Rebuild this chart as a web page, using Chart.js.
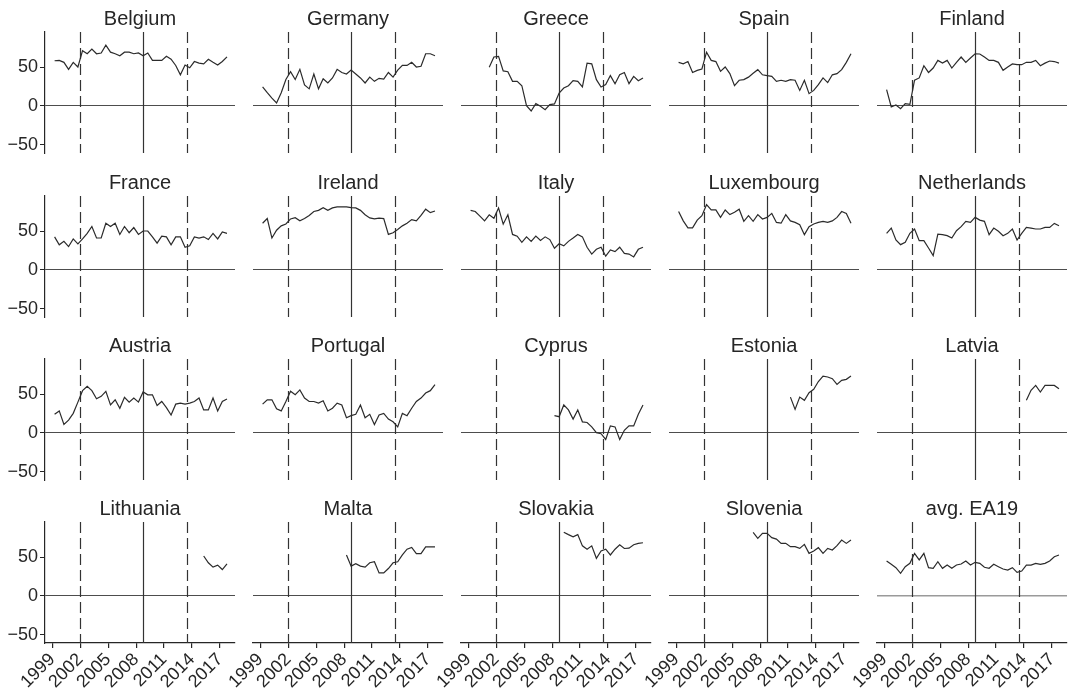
<!DOCTYPE html>
<html>
<head>
<meta charset="utf-8">
<script src="https://cdn.jsdelivr.net/npm/chart.js@4"></script>
<style>
body{margin:0;background:#fff}
#wrap{position:relative;width:1068px;height:688px;overflow:hidden;background:#fff}
.panel{position:absolute}
</style>
</head>
<body>
<div id="wrap"></div>
<script>

// ===== DATA =====
// half-year observations, plotted at mid-half positions
const periods = [1999.25,1999.75,2000.25,2000.75,2001.25,2001.75,2002.25,2002.75,2003.25,2003.75,
2004.25,2004.75,2005.25,2005.75,2006.25,2006.75,2007.25,2007.75,2008.25,2008.75,
2009.25,2009.75,2010.25,2010.75,2011.25,2011.75,2012.25,2012.75,2013.25,2013.75,
2014.25,2014.75,2015.25,2015.75,2016.25,2016.75,2017.25,2017.75]

const xTickYears = [1999,2002,2005,2008,2011,2014,2017]
const yTickValues = [50,0,-50]
const eventYears = [2002.0, 2008.72, 2013.47]
const eventDashed = [true, false, true]

function gap(n){ return new Array(n).fill(null) }

const belgium = [58,58.5,56,47,56,50,71,67,73,67,68,78,69,67,64.5,69,69,67,68,64.5,68,58.5,58.5,58.5,63.7,60,52,40,52.5,49,57,55,54,60,56,52.5,57,63]
const germany = [24.4,17,10,3.8,17,34,44,34,47,27,22,41,22,35,29.5,36,47,43,41,46,41,36,29.5,37,31.6,35.5,34.6,43,37,46,52,52,56,50,51,67,67,64.5]
const greece = gap(4).concat([49.6,62.8,63.7,45,44,31.6,31.6,26,0.4,-6.4,3,-0.4,-4.7,1.7,2.6,16.7,23,26,32.5,31.6,24.4,55,54,33.8,24.4,27.4,39,28.6,40,43,28.6,38,32.5,36])
const spain = [56,54,57,43,45.7,47.4,69,58.5,57,44.4,50,41.5,26,33,33.8,37,42,46.6,40,39,38,31.6,33,31.6,33.8,33,20,33,15.8,20,27.4,36,30,40,41.5,46.6,56,67]
const finland = [21,-1.3,1.3,-3.4,3,2,33,36,51.7,43,48.7,58.5,55,58.5,48.7,56,62.8,56,61.5,67,66.7,62.8,58.5,58.5,56,45.7,50,54,53,53,56,56,58.5,51.7,55,57.7,57,55]

const france = [42.5,32.3,36.7,30,39.8,33.6,39.8,47,55.8,41,41,60,55.8,60,45.6,55.8,47.8,54.4,45.6,50,50,42.5,34.5,43.4,42.5,32.3,42.5,42.5,29.2,31,42.5,41,42.5,39,47,39.8,48.7,47]
const ireland = [60,66,41,51,56.6,59,65.5,67,63,66,70,75,76.5,80,76.5,79.6,81,81,81,80,79.6,76.5,70.8,66.8,65.5,66.4,66,45.6,47.8,52,56.6,60,64.6,63,70,78,73.5,75.7]
const italy = [76.5,75,69,63,70.8,66.4,79.6,58.8,70.8,45.6,43.4,35.4,42.5,36.7,43.4,38,42.5,39,27.9,33.6,31,36.7,41,45.6,42.5,29.2,20.4,26.5,29.2,17.7,25.7,23.5,29.2,21.2,20.4,16.8,26.5,29.2]
const luxembourg = [75,63,54,54,64,69.7,83.8,77,77,67.5,77,71,74,78,62.4,69.7,62.4,71,65.4,67.5,72.6,61,60,71,63,61,58,45.3,55.6,59,61,62.4,61,63,67.5,75,72.6,59.8]
const netherlands = [47,53.8,38.5,32.5,35.5,47,52.6,37.6,37.6,28.2,18.4,46,45.3,44,41,50.4,55.6,62.4,61,67.5,64,62.4,45.3,53.8,49.6,44,47,52.6,38.5,47,54.7,53.8,52.6,52.6,54.7,54.7,59.8,56.8]

const austria = [23.9,28.3,10.9,16.5,25.2,39.6,54.3,60,54.3,43.9,47,53.5,36,42.6,31.7,45.7,39.6,44.8,39.6,52.6,49,49,35.2,40.4,32.6,23,37,38.3,37,38.3,40.4,44.8,29.6,29.6,44.8,28.3,40.4,43.5]
const portugal = [37,42.6,42.6,30.9,28.3,40.4,53.5,49,55.2,44.8,40.4,40.4,38.3,41.3,28.3,31.7,38.3,36,19.6,22.2,23.9,36,19.6,23.9,10.9,23,25.2,17.8,14.3,7.8,25.2,22.2,31.7,40.4,44.8,51.3,54.3,62]
const cyprus = gap(18).concat([22.2,20.9,36,29.6,17.8,29.6,14.3,13.5,7.8,0.4,-0.9,-8.3,9.1,7.8,-8.3,3.5,9.1,9.1,23.9,36])
const estonia = gap(24).concat([46,30.3,46,41.9,51.7,56,66,73,71.8,69.7,62.4,67.5,68.8,73])
const latvia = gap(30).concat([41.9,54.7,61,52.6,61,61,61,56.8])

const lithuania = gap(32).concat([51.3,42.6,37,39.6,33.9,41.3])
const malta = gap(18).concat([52.6,38.3,41.3,38.3,37,42.6,43.9,29.6,29.6,35.2,42.6,43.9,52.6,60,62.2,54.3,54.3,63,63,63])
const slovakia = gap(20).concat([81.7,78.7,76,78.7,64.3,60,64.3,48.3,57.8,60,52.6,60,65.7,60.9,61.3,65.7,67.4,68.3])
const slovenia = gap(16).concat([81.6,74,80.3,80.3,74.8,73,67.5,67.5,63.2,63.2,61,66.2,54.7,57.7,62,54.7,61,59,64.5,71.8,67.5,71.8])
const ea19 = [44.9,40.6,36.3,29,37.6,41.9,54.7,46.2,54.7,36.3,35.5,44,35.5,39.7,35.5,39.7,41,44.9,39.7,43.2,41.9,36.8,35.5,40.6,37.6,34.6,33.3,36.3,30.3,32,39.7,39.7,41.9,40.6,41.9,44.9,50.4,52.6]

const countries = ["Belgium","Germany","Greece","Spain","Finland",
"France","Ireland","Italy","Luxembourg","Netherlands",
"Austria","Portugal","Cyprus","Estonia","Latvia",
"Lithuania","Malta","Slovakia","Slovenia","avg. EA19"]
const series = [belgium,germany,greece,spain,finland,
france,ireland,italy,luxembourg,netherlands,
austria,portugal,cyprus,estonia,latvia,
lithuania,malta,slovakia,slovenia,ea19]


// ===== STYLE =====
const FONT = "'Liberation Sans', Arial, sans-serif"
const INK = "#262626"
const LINE = "#2b2b2b"
const xMin = 1998.22, xMax = 2018.61
const yMin = -60.3, yMax = 94.9


// ===== EVENT LINES PLUGIN =====
const eventLines = {
id:"eventLines",
beforeDatasetsDraw(chart){
const ctx = chart.ctx
const a = chart.chartArea
const x = chart.scales.x
ctx.save()
ctx.strokeStyle = "#333"
ctx.lineWidth = 1.2
eventYears.forEach((yr,j)=>{
const px = Math.round(x.getPixelForValue(yr)) + 0.5
ctx.beginPath()
ctx.setLineDash(eventDashed[j] ? [11,5] : [])
ctx.moveTo(px,a.top)
ctx.lineTo(px,a.bottom)
ctx.stroke()
})
ctx.restore()
}
}


// ===== BUILD PANELS =====
const wrap = document.getElementById("wrap")

countries.forEach((name,i)=>{

const col = i % 5
const row = Math.floor(i / 5)
const isLeft = col === 0
const isBottom = row === 3
const isAvg = i === countries.length - 1

const plotLeft = 45 + 208*col
const plotTop = Math.round(32.3 + 163.3*row)

const bottomRoom = isBottom ? 52 : 14
const w = 45 + 190 + 2
const h = 32 + 121 + bottomRoom

const div = document.createElement("div")
div.className = "panel"
div.style.left = (plotLeft - 45) + "px"
div.style.top = (plotTop - 32) + "px"
const cv = document.createElement("canvas")
cv.width = w
cv.height = h
div.appendChild(cv)
wrap.appendChild(div)

new Chart(cv,{
type:"line",
data:{
datasets:[{
data: periods.map((p,k)=>({x:p,y:series[i][k]})),
borderColor:LINE,
borderWidth:1.2,
pointRadius:0,
tension:0,
spanGaps:false
}]
},
options:{
responsive:false,
animation:false,
events:[],
layout:{padding:{left:0,right:2,top:0,bottom:isBottom?0:bottomRoom}},
plugins:{
legend:{display:false},
tooltip:{enabled:false},
title:{
display:true,
text:name,
fullSize:false,
color:INK,
font:{family:FONT,size:20,weight:"normal",lineHeight:1.2},
padding:{top:7,bottom:1}
}
},
scales:{
x:{
type:"linear",
min:xMin,
max:xMax,
display:isBottom,
afterBuildTicks:s=>{ s.ticks = xTickYears.map(v=>({value:v})) },
afterFit:s=>{ if(isBottom) s.height = 52 },
grid:{drawOnChartArea:false,drawTicks:true,tickLength:5,tickColor:INK,lineWidth:1.2},
border:{display:true,color:INK,width:1.2},
ticks:{autoSkip:false,minRotation:45,maxRotation:45,color:INK,padding:1,
font:{family:FONT,size:18},callback:v=>String(v)}
},
y:{
type:"linear",
min:yMin,
max:yMax,
afterBuildTicks:s=>{ s.ticks = yTickValues.map(v=>({value:v})) },
afterFit:s=>{ s.width = 45 },
grid:{
color:c=> (c.tick && c.tick.value === 0) ? (isAvg ? "#9a9a9a" : "#4d4d4d") : "rgba(0,0,0,0)",
lineWidth:c=> (isAvg && c.tick && c.tick.value === 0) ? 1.6 : 1,
drawTicks:isLeft,
tickLength:5,
tickColor:INK
},
border:{display:isLeft,color:INK,width:1.2},
ticks:{display:isLeft,color:INK,padding:2,font:{family:FONT,size:18},
callback:v=>String(v).replace("-","\u2212")}
}
}
},
plugins:[eventLines]
})

})

</script>
</body>
</html>
